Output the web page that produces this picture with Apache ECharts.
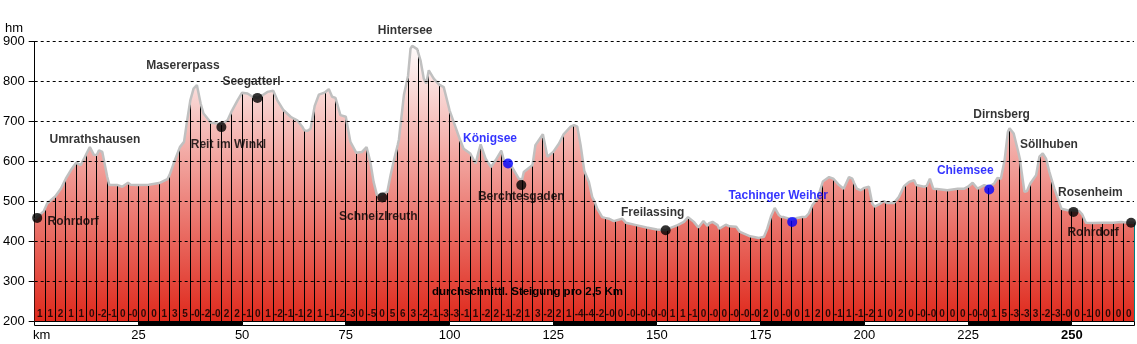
<!DOCTYPE html>
<html><head><meta charset="utf-8">
<script src="https://cdn.jsdelivr.net/npm/echarts@6.0.0/dist/echarts.min.js"></script>
<style>html,body{margin:0;padding:0;background:#fff}#c{width:1137px;height:344px}</style>
</head><body><div id="c"></div>
<script>
// ---- DATA ----
// elevation profile: [km, elevation in m]
const profile = [
[0,455],[2.2,476],[2.5,478],[3,495],[5,513],[6.3,532],[7.5,557],[8.7,578],[10,597],[11.1,591],[11.9,607],[12.5,620],[13.3,636],[14.3,616],[15,617],[15.5,628],[16.3,624],[17.5,561],[18,541],[20,541],[21.1,537],[22.5,547],[23.1,542],[25,541],[27.5,542],[30,546],[32,556],[32.5,566],[33.5,595],[35,636],[36,649],[36.7,699],[37.5,752],[38.3,782],[39.1,791],[40,745],[40.7,720],[42.5,697],[44,695],[45,694],[46.5,703],[47.5,726],[48.9,753],[50,772],[51.3,770],[52.5,762],[53.7,759],[55,766],[56.1,774],[57.5,777],[58.5,753],[60,728],[61.7,712],[62.5,707],[63.3,703],[64.5,687],[65,678],[65.7,676],[66.5,682],[67.5,739],[68.5,767],[70,773],[70.9,781],[71.7,762],[72.5,759],[73.7,716],[75,712],[76.1,649],[77.5,622],[78.9,624],[80,636],[80.9,599],[81.7,549],[82.5,516],[83.3,516],[85,524],[85.8,566],[86.6,603],[87.5,641],[87.8,655],[89,766],[90,814],[90.6,882],[91,889],[92.2,881],[92.5,878],[93,853],[93.8,807],[94.4,795],[95,828],[95.4,832],[96.2,807],[97.5,792],[98.6,786],[99.8,737],[100,728],[101,699],[102.5,655],[103.4,632],[105,620],[106.3,595],[106.8,616],[107.5,643],[108.7,607],[110,586],[111.1,603],[112.5,627],[113.1,603],[114.1,595],[115,587],[116.7,557],[117.5,555],[117.9,574],[119.5,587],[120,591],[120.7,641],[122.5,668],[123.6,612],[125,624],[126.4,645],[127.5,668],[129.2,687],[130,691],[130.8,687],[131.6,641],[132.5,576],[133.6,549],[134.4,511],[135,499],[135.6,482],[136.8,461],[137.5,459],[138.4,457],[139.6,451],[140,453],[141.6,457],[142.5,447],[145,441],[147.5,435],[150,430],[152.1,428],[152.5,431],[153.3,434],[155,441],[156.5,449],[157.5,461],[158.9,449],[160,435],[161.2,451],[162.2,439],[162.5,445],[163.4,449],[164.6,441],[165,432],[165.4,428],[166.6,442],[167.5,438],[169.1,437],[170,424],[172.5,413],[174.6,409],[175,410],[175.8,412],[176.6,432],[177.5,463],[178.4,484],[179.4,466],[180,461],[180.6,461],[182.5,455],[183.8,459],[185,461],[185.8,461],[186.6,470],[187.5,491],[188.7,507],[190,550],[191.5,561],[192.5,557],[193.9,541],[195,532],[196.3,561],[197.1,557],[197.5,547],[198.2,532],[199.1,528],[200,534],[200.3,537],[201.1,537],[201.9,495],[202.5,487],[203.9,495],[204.7,501],[205,499],[205.5,496],[207.1,496],[207.5,499],[208.3,511],[209.5,537],[210,542],[210.8,549],[212,553],[212.5,541],[212.8,537],[214.4,537],[215,539],[215.8,557],[216.6,532],[217.5,531],[220,528],[222.5,532],[224.1,532],[225,537],[226.1,547],[227.3,532],[227.5,532],[228.9,541],[230,537],[231.3,545],[232.1,559],[232.5,558],[232.9,557],[233.8,603],[234.6,674],[235,683],[236,670],[237,628],[237.5,606],[237.8,582],[238.6,524],[239.2,526],[240,545],[241.4,566],[242.2,612],[242.5,614],[243,620],[243.8,607],[244.6,574],[245,560],[245.8,532],[247.5,482],[249,478],[250,478],[250.4,474],[251.8,476],[252.5,468],[253.4,447],[255,446],[257.5,447],[260,447],[261.9,449],[262.5,448],[262.7,445],[264.3,447],[265,447]
];

// average gradient (%) per 2.5 km segment
const gradLabels = [
'1','1','2','1','1','0','-2','-1','0','-0',
'0','0','1','3','5','-0','-2','-0','2','2',
'-1','0','1','-2','-1','-1','2','1','-1','-2',
'-3','0','-5','0','5','6','3','-2','-1','-3',
'-3','-1','1','-2','2','-1','-2','1','3','-2',
'2','1','-4','-4','-2','-0','0','-0','-0','-0',
'-0','1','1','-1','0','-0','0','-0','-0','-0',
'2','0','-0','0','1','2','0','-1','1','-1',
'-2','1','0','2','0','-0','-0','0','0','0',
'-0','-0','1','5','-3','-3','3','-2','-3','-0',
'0','-1','0','0','0','0'
];

// places along the route
const placeNames = ['Rohrdorf','Umrathshausen','Masererpass','Reit im Winkl','Seegatterl','Schneizlreuth','Hintersee','Königsee','Berchtesgaden','Freilassing','Tachinger Weiher','Chiemsee','Dirnsberg','Söllhuben','Rosenheim','Rohrdorf '];
const placeKm    = [0.6, 13.3, 39.1, 45.0, 53.7, 83.8, 91.0, 114.1, 117.3, 152.1, 182.6, 230.1, 235.0, 242.8, 250.4, 264.3];
const placeElev  = [459, 636, 791, 686, 759, 510, 889, 595, 541, 428, 449, 530, 683, 620, 474, 447];
const placeDot   = [true, false, false, true, true, true, false, true, true, true, true, true, false, false, true, true];
const placeBlue  = [false, false, false, false, false, false, false, true, false, false, true, true, false, false, false, false];

const elevLevels = [300, 400, 500, 600, 700, 800, 900];
const scaleStarts = [0, 25, 50, 75, 100, 125, 150, 175, 200, 225, 250];

// ---- LAYOUT / STYLE ----
const KM_MAX = 265, ELEV_MIN = 200, ELEV_MAX = 900;
const FONT = "'Liberation Sans', Arial, sans-serif";
const labelOffset = {
  'Rohrdorf':[36,4], 'Umrathshausen':[5,-7], 'Masererpass':[-14,-19], 'Reit im Winkl':[7,18],
  'Seegatterl':[-6,-16], 'Schneizlreuth':[-4,19], 'Hintersee':[-7,-15], 'Königsee':[-18,-25],
  'Berchtesgaden':[0,12], 'Freilassing':[-13,-18], 'Tachinger Weiher':[-14,-26], 'Chiemsee':[-24,-19],
  'Dirnsberg':[-8,-14], 'Söllhuben':[7,-9], 'Rosenheim':[17,-19], 'Rohrdorf ':[-38,10]
};
const GRAD_LABEL_ELEV = 217.5;

const chart = echarts.init(document.getElementById('c'), null, {renderer:'canvas'});
const isBarKm = km => km > 0 && Math.abs(km / 2.5 - Math.round(km / 2.5)) < 1e-6;
const barData = profile.filter(p => isBarKm(p[0]));

const areaGrad = new echarts.graphic.LinearGradient(0, 41.5, 0, 321.5, [
  {offset:0, color:'#ffffff'},
  {offset:1, color:'#df281b'}
], true);

const placeData = placeNames.map((n, i) => ({
  name: n, value: [placeKm[i], placeElev[i]],
  symbolSize: placeDot[i] ? 10 : 0,
  itemStyle: {color: placeBlue[i] ? '#0000ff' : '#000000'},
  label: {
    show: true, position: 'inside', offset: labelOffset[n],
    formatter: n.trim(), color: placeBlue[i] ? '#0000ff' : '#000000',
    fontSize: 12, fontWeight: 'bold', fontFamily: FONT
  }
}));

const option = {
  animation: false,
  textStyle: {fontFamily: FONT},
  grid: {left: 34.5, right: 2.5, top: 41.5, bottom: 22.5, containLabel: false},
  xAxis: {
    type: 'value', min: 0, max: KM_MAX, interval: 25,
    axisLine: {show: true, lineStyle: {color: '#000', width: 1}},
    axisTick: {show: false}, splitLine: {show: false},
    axisLabel: {
      margin: 7, color: '#000', fontSize: 13, fontFamily: FONT,
      showMinLabel: true, showMaxLabel: true,
      formatter: v => (v > 0 && v <= 250 && v % 25 === 0) ? (v === 250 ? '{b|250}' : String(v)) : '',
      rich: {b: {fontWeight: 'bold', fontSize: 13, color: '#000', fontFamily: FONT}}
    }
  },
  yAxis: {
    type: 'value', min: ELEV_MIN, max: ELEV_MAX, interval: 100,
    axisLine: {show: true, lineStyle: {color: '#000', width: 1}},
    axisTick: {show: true, length: 6, lineStyle: {color: '#000'}},
    splitLine: {show: false},
    axisLabel: {margin: 10, color: '#000', fontSize: 13, fontFamily: FONT}
  },
  graphic: [
    {type: 'text', left: 5, top: 22, style: {text: 'hm', font: "13px " + FONT, fill: '#000'}},
    {type: 'text', left: 33, top: 329, style: {text: 'km', font: "13px " + FONT, fill: '#000'}},
    {type: 'text', left: 432, top: 286, z: 100, style: {text: 'durchschnittl. Steigung pro 2,5 Km', font: "bold 11.5px " + FONT, fill: '#000'}}
  ],
  series: [
    { // filled area
      type: 'line', data: profile, symbol: 'none', silent: true, z: 1,
      lineStyle: {width: 0, opacity: 0},
      areaStyle: {color: areaGrad, opacity: 1}
    },
    { // 2.5 km markers
      type: 'custom', data: barData, z: 2, silent: true, clip: true,
      encode: {x: 0, y: 1},
      renderItem: (params, api) => {
        const km = api.value(0), e = api.value(1);
        const top = api.coord([km, e]);
        const bot = api.coord([km, ELEV_MIN]);
        const x = Math.floor(top[0]) + 0.5;
        return {type: 'line', shape: {x1: x, y1: bot[1], x2: x, y2: top[1]},
          style: {stroke: km >= KM_MAX ? '#008080' : '#000', lineWidth: 1}};
      }
    },
    { // outline + dashed levels
      type: 'line', data: profile, symbol: 'none', silent: true, z: 3,
      lineStyle: {color: '#c0c0c0', width: 2.5},
      markLine: {
        silent: true, symbol: 'none', animation: false,
        label: {show: false},
        lineStyle: {color: '#000', type: [3, 3], width: 1},
        emphasis: {disabled: true},
        data: elevLevels.map(v => ({yAxis: v}))
      }
    },
    { // km scale strip
      type: 'custom', data: scaleStarts.map((s, i) => [s, Math.min(s + 25, KM_MAX), i % 2]),
      z: 4, silent: true, clip: false,
      encode: {x: 0},
      renderItem: (params, api) => {
        const a = api.coord([api.value(0), ELEV_MIN]);
        const b = api.coord([api.value(1), ELEV_MIN]);
        const y = Math.floor(a[1]) + 0.5;
        return {type: 'rect', shape: {x: Math.floor(a[0]) + 0.5, y: y, width: Math.floor(b[0]) - Math.floor(a[0]), height: 4},
          style: {fill: api.value(2) ? '#000' : '#fff', stroke: '#000', lineWidth: 1}};
      }
    },
    { // gradient labels
      type: 'scatter', z: 5, silent: true, symbolSize: 1,
      itemStyle: {color: 'transparent'},
      data: gradLabels.map((t, i) => [2.5 * i + 1.25, GRAD_LABEL_ELEV]),
      label: {show: true, position: 'inside', color: '#000', fontSize: 10, fontWeight: 'bold', fontFamily: FONT,
        formatter: p => gradLabels[p.dataIndex]}
    },
    { // places
      type: 'scatter', z: 6, silent: true, symbol: 'circle', clip: false,
      data: placeData
    }
  ]
};
chart.setOption(option);
</script>
</body></html>
